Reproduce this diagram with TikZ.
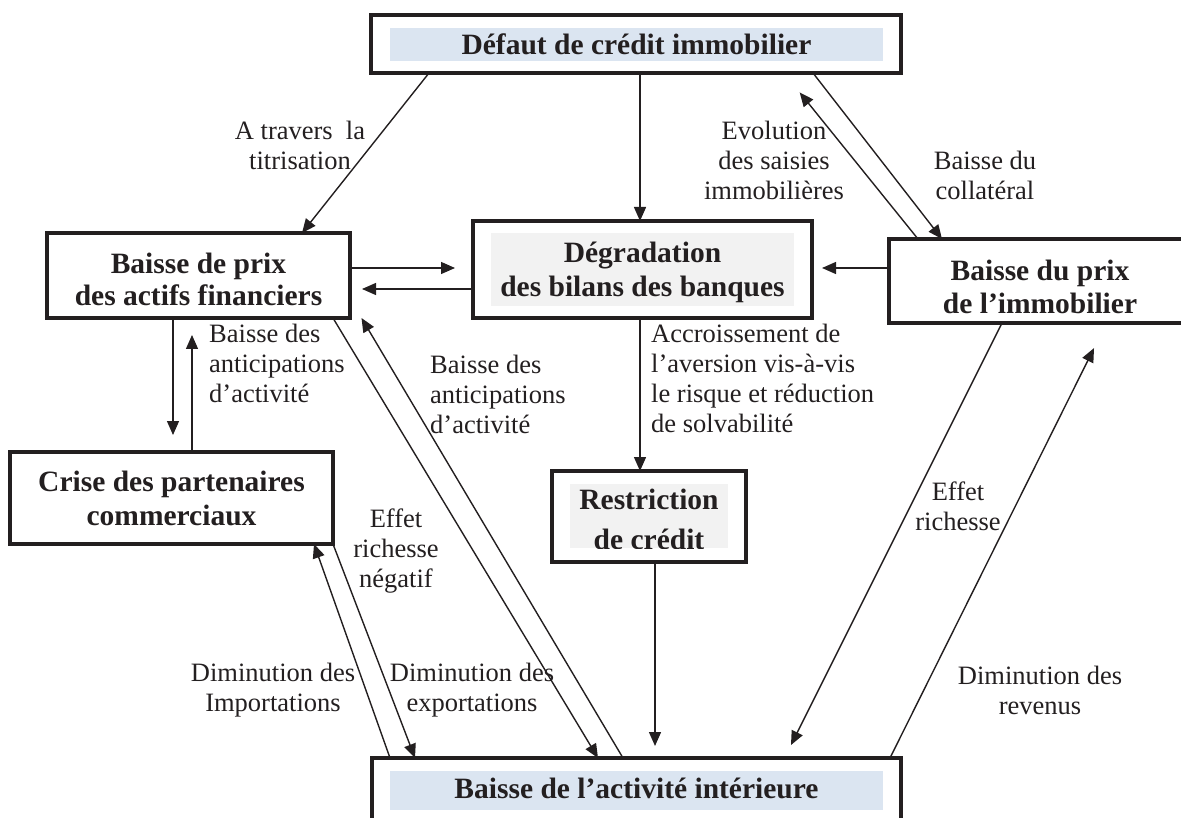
\documentclass[tikz,border=0pt]{standalone}
\usepackage{fontspec}
\setmainfont{Liberation Serif}
\usetikzlibrary{arrows.meta,calc}
\definecolor{lblue}{RGB}{219,229,241}
\definecolor{lgrey}{RGB}{242,242,242}
\definecolor{ink}{RGB}{35,31,32}
\tikzset{
  box/.style={draw=ink, line width=3.8pt, inner sep=0pt, outer sep=0pt},
  btxt/.style={font=\fontsize{29.5}{33}\selectfont\bfseries, text=ink, align=center, inner sep=0pt},
  lbl/.style={font=\fontsize{26.5}{30}\selectfont, text=ink, inner sep=0pt},
  conn/.style={draw=ink, line width=1.4pt, -{Triangle[length=14pt,width=12pt]}}
}
\begin{document}
\begin{tikzpicture}[x=1pt,y=-1pt]
\useasboundingbox (0,0) rectangle (1181,818);
\clip (0,0) rectangle (1181,818);
% inner fills
\fill[lblue] (390,28) rectangle (883,61);
\fill[lgrey] (491,233) rectangle (794,306);
\fill[lgrey] (570,484) rectangle (728,548);
\fill[lblue] (390,771) rectangle (883,810);
% boxes
\node[box, minimum width=530pt, minimum height=58pt] (top) at (636,44) {};
\node[box, minimum width=303pt, minimum height=85pt] (prix) at (198.5,275.5) {};
\node[box, minimum width=339pt, minimum height=97pt] (deg) at (642.5,269.5) {};
\node[box, minimum width=301pt, minimum height=84pt] (immo) at (1039.5,281) {};
\node[box, minimum width=323pt, minimum height=92pt] (crise) at (171.5,498) {};
\node[box, minimum width=194pt, minimum height=91pt] (restr) at (649,516.5) {};
\node[box, minimum width=529pt, minimum height=82pt] (bottom) at (636.5,799) {};
% box texts
\node[btxt] (topT) at (636.5,44.7) {Défaut de crédit immobilier};
\node[btxt, font=\fontsize{29.5}{32}\selectfont\bfseries] (prixT) at (198.5,279) {Baisse de prix\\des actifs financiers};
\node[btxt, font=\fontsize{29.5}{34}\selectfont\bfseries] (degT) at (642.5,272) {Dégradation\\des bilans des banques};
\node[btxt] (immoT) at (1040,286.5) {Baisse du prix\\de l’immobilier};
\node[btxt, font=\fontsize{29.5}{34}\selectfont\bfseries] (criseT) at (171.5,498) {Crise des partenaires\\commerciaux};
\begin{scope}
  \clip (570,484) rectangle (728,548);
  \node[btxt, font=\fontsize{29.5}{40}\selectfont\bfseries] (restrT) at (649,519) {Restriction\\de crédit};
\end{scope}
\node[btxt] (bottomT) at (636.5,788.7) {Baisse de l’activité intérieure};
% labels
\node[lbl, align=center] (l1) at (300,145) {A travers\ \ la\\titrisation};
\node[lbl, align=center] (l2) at (774,160) {Evolution\\des saisies\\immobilières};
\node[lbl, align=center] (l3) at (985,175) {Baisse du\\collatéral};
\node[lbl, align=left, anchor=west] (l4) at (209,363) {Baisse des\\anticipations\\d’activité};
\node[lbl, align=left, anchor=west] (l5) at (651,378) {Accroissement de\\l’aversion vis-à-vis\\le risque et réduction\\de solvabilité};
\node[lbl, align=left, anchor=west] (l6) at (430,394) {Baisse des\\anticipations\\d’activité};
\node[lbl, align=center] (l7) at (396,551) {Effet\\richesse\\négatif};
\node[lbl, align=center] (l8) at (958,506) {Effet\\richesse};
\node[lbl, align=center] (l9) at (273,690) {Diminution des\\Importations};
\node[lbl, align=center] (l10) at (472,690) {Diminution des\\exportations};
\node[lbl, align=center] (l11) at (1040,690) {Diminution des\\revenus};
% connectors
\draw[conn] ($(top.south)+(-207,0)$) -- ($(prix.north)+(103.5,0)$);
\draw[conn] ($(top.south)+(4,0)$) -- ($(deg.north)+(-2.5,0)$);
\draw[conn, shorten >=18pt] ($(prix.east)+(0,-7.5)$) -- ($(deg.west)+(0,-1.5)$);
\draw[conn, shorten >=12pt] ($(deg.west)+(0,19.5)$) -- ($(prix.east)+(0,13.5)$);
\draw[conn, shorten >=10pt] ($(immo.west)+(0,-13)$) -- ($(deg.east)+(0,-1.5)$);
\draw[conn] ($(top.south)+(177,0)$) -- ($(immo.north)+(-97.5,0)$);
\draw[conn, shorten >=25pt] ($(immo.north)+(-121.5,0)$) -- ($(top.south)+(148,0)$);
\draw[conn] ($(deg.south)+(-2.5,0)$) -- ($(restr.north)+(-9,0)$);
\draw[conn, shorten >=12pt] ($(restr.south)+(6,0)$) -- ($(bottom.north)+(18.5,0)$);
\draw[conn, shorten >=17pt] ($(prix.south)+(-25.5,0)$) -- ($(crise.north)+(1.5,0)$);
\draw[conn, shorten >=17pt] ($(crise.north)+(20.5,0)$) -- ($(prix.south)+(-6.5,0)$);
\draw[conn] ($(prix.south)+(134.5,0)$) -- ($(bottom.north)+(-38.5,0)$);
\draw[conn] ($(bottom.north)+(-13.5,0)$) -- ($(prix.south)+(163,0)$);
\draw[conn] ($(crise.south)+(161.5,0)$) -- ($(bottom.north)+(-221.5,0)$);
\draw[conn] ($(bottom.north)+(-246.5,0)$) -- ($(crise.south)+(142.5,0)$);
\draw[conn, shorten >=14.5pt] ($(immo.south)+(-37.5,0)$) -- ($(bottom.north)+(148,0)$);
\draw[conn, shorten >=28pt] ($(bottom.north)+(253.5,0)$) -- ($(immo.south)+(67,0)$);
\end{tikzpicture}
\end{document}
